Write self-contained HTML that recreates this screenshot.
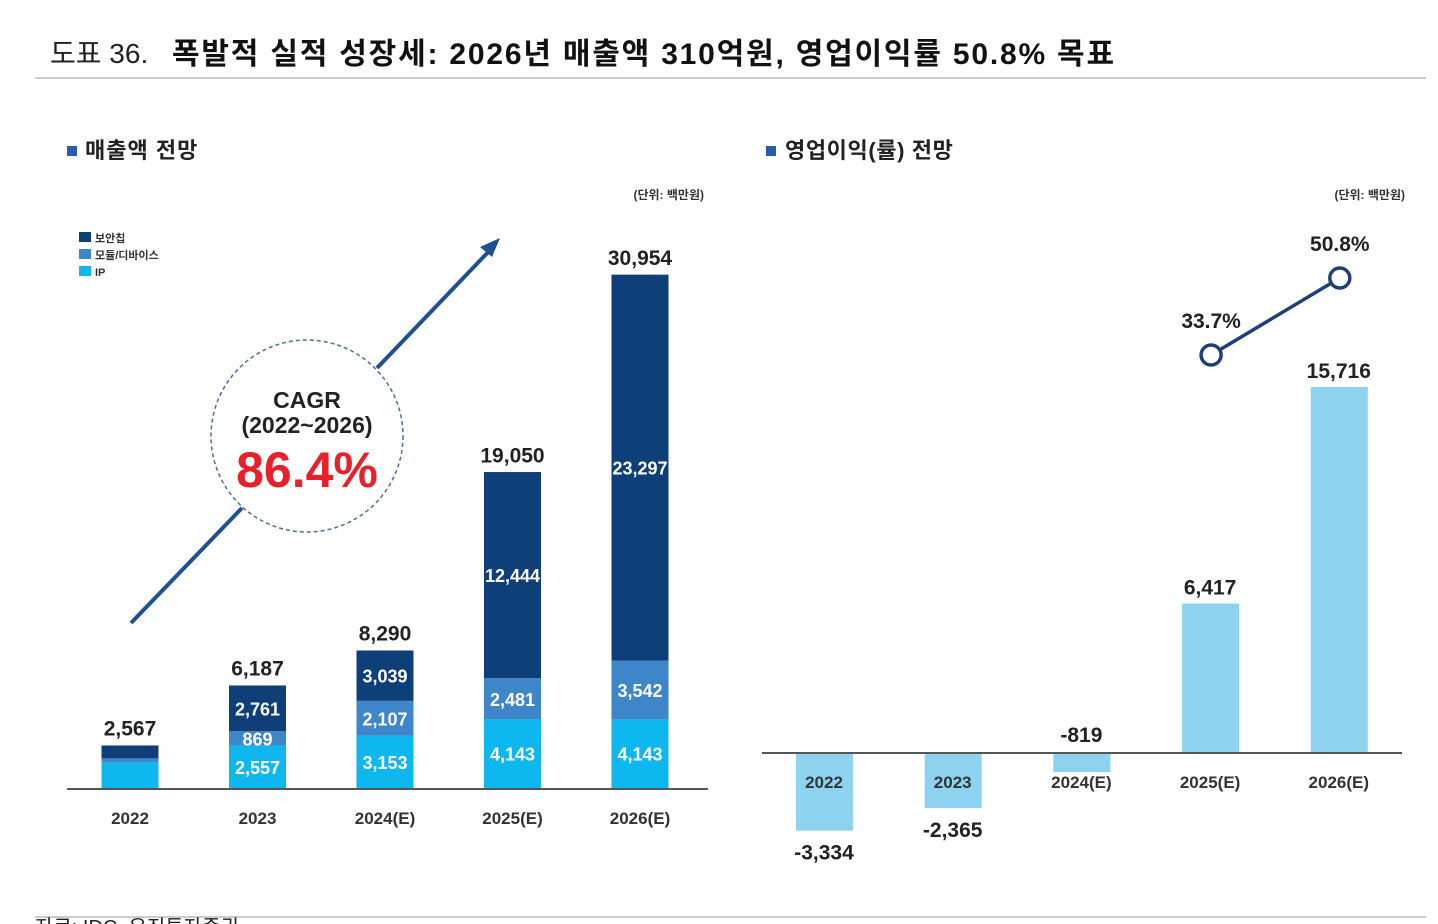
<!DOCTYPE html>
<html><head><meta charset="utf-8">
<style>
body{margin:0;background:#fff;width:1438px;height:924px;overflow:hidden;font-family:"Liberation Sans","Noto Sans CJK KR",sans-serif;}
svg{position:absolute;left:0;top:0}
</style></head>
<body>
<svg width="1438" height="924" id="fig">
<text x="50" y="63" font-size="28" fill="#222" font-family="Liberation Sans, Noto Sans CJK KR, sans-serif">도표 36.</text>
<text x="172" y="64" font-size="30" font-weight="bold" fill="#111" letter-spacing="1.8" font-family="Liberation Sans, Noto Sans CJK KR, sans-serif">폭발적 실적 성장세: 2026년 매출액 310억원, 영업이익률 50.8% 목표</text>
<line x1="35" y1="78" x2="1426" y2="78" stroke="#bbb" stroke-width="1.5"/>
<line x1="35" y1="917" x2="1426" y2="917" stroke="#bbb" stroke-width="1.5"/>
<text x="35" y="934" font-size="20" fill="#222">자료: IDC, 유진투자증권</text>

<rect x="67" y="146" width="10" height="10" fill="#2a5db0"/>
<text x="85" y="158" font-size="22" font-weight="bold" fill="#222" letter-spacing="1">매출액 전망</text>
<text x="704" y="199" font-size="12" font-weight="bold" fill="#333" text-anchor="end">(단위: 백만원)</text>
<rect x="766" y="146" width="10" height="10" fill="#2a5db0"/>
<text x="785" y="158" font-size="22" font-weight="bold" fill="#222" letter-spacing="0.6">영업이익(률) 전망</text>
<text x="1405" y="199" font-size="12" font-weight="bold" fill="#333" text-anchor="end">(단위: 백만원)</text>

<g>
<rect x="79" y="232" width="12" height="10" fill="#0f3f78"/>
<text x="95" y="242" font-size="11" font-weight="bold" fill="#333">보안칩</text>
<rect x="79" y="249" width="12" height="10" fill="#3d86c9"/>
<text x="95" y="259" font-size="11" font-weight="bold" fill="#333">모듈/디바이스</text>
<rect x="79" y="266" width="12" height="10" fill="#0fb7ef"/>
<text x="95" y="276" font-size="11" font-weight="bold" fill="#333">IP</text>
</g>

<line x1="131" y1="623" x2="242" y2="508" stroke="#1f4f95" stroke-width="4"/>
<line x1="377" y1="368" x2="493" y2="247" stroke="#1f4f95" stroke-width="4"/>
<polygon points="500,238 480,247 492,257" fill="#1f4f95"/>
<circle cx="307" cy="436" r="96" fill="#fff" stroke="#4a6f9c" stroke-width="1.5" stroke-dasharray="4,3"/>
<text x="307" y="408" font-size="23" font-weight="bold" fill="#222" text-anchor="middle">CAGR</text>
<text x="307" y="433" font-size="23" font-weight="bold" fill="#222" text-anchor="middle">(2022~2026)</text>
<text x="307" y="487" font-size="50" font-weight="bold" fill="#e8202a" text-anchor="middle">86.4%</text>

<g id="left"></g>
<g id="right"></g>
</svg>
<script>
const years=["2022","2023","2024(E)","2025(E)","2026(E)"];
const ipVals=[1547,2557,3153,4143,4143];
const moduleVals=[240,869,2107,2481,3542];
const securityVals=[780,2761,3039,12444,23297];
const totalVals=[2567,6187,8290,19050,30954];
const opProfit=[-3334,-2365,-819,6417,15716];
const opMargin=[null,null,null,33.7,50.8];

const NS="http://www.w3.org/2000/svg";
function el(t,a,p,txt){const e=document.createElementNS(NS,t);for(const k in a)e.setAttribute(k,a[k]);if(txt!==undefined)e.textContent=txt;p.appendChild(e);return e;}
const L=document.getElementById('left'),R=document.getElementById('right');
const lx=i=>130+i*127.5, ly=v=>788-v*0.01657, bw=57;
let ax=el('line',{x1:67,y1:789,x2:708,y2:789,stroke:'#555','stroke-width':2},L);


const series=[[ipVals,'#0fb7ef','ip'],[moduleVals,'#3d86c9','module'],[securityVals,'#0f3f78','security']];
years.forEach((y,i)=>{
  let base=0;
  series.forEach(([arr,col,nm])=>{
    const v=arr[i];const r=el('rect',{x:lx(i)-bw/2,y:ly(base+v),width:bw,height:ly(base)-ly(base+v),fill:col},L);
    
    
    if(i>0){const t=el('text',{x:lx(i),y:(ly(base)+ly(base+v))/2+7,'font-size':18,'font-weight':'bold',fill:'#fff','text-anchor':'middle'},L,v.toLocaleString('en-US'));
      
      }
    base+=v;
  });
  const tt=el('text',{x:lx(i),y:ly(totalVals[i])-10,'font-size':21,'font-weight':'bold',fill:'#222','text-anchor':'middle'},L,totalVals[i].toLocaleString('en-US'));
  
  
  const c=el('text',{x:lx(i),y:824,'font-size':17,'font-weight':'bold',fill:'#333','text-anchor':'middle'},L,y);
  
  
});
const rx=i=>824+i*128.7, ry=v=>753-v*0.02329;
years.forEach((y,i)=>{
  const v=opProfit[i];
  const h=Math.abs(ry(v)-ry(0));
  const r=el('rect',{x:rx(i)-28,y:Math.min(ry(v),ry(0)),width:57,height:h,fill:'#8dd3f0'},R);
  
  
  let ty;
  if(v>=0) ty=ry(v)-9; else if(h<40) ty=ry(0)-11; else ty=ry(v)+29;
  const t=el('text',{x:rx(i),y:ty,'font-size':21,'font-weight':'bold',fill:'#222','text-anchor':'middle'},R,v.toLocaleString('en-US'));
  
  
  const c=el('text',{x:rx(i),y:788,'font-size':17,'font-weight':'bold',fill:'#333','text-anchor':'middle'},R,y);
  
  
});
const ax2=el('line',{x1:762,y1:753,x2:1402,y2:753,stroke:'#555','stroke-width':2},R);


const my=m=>355-(m-33.7)*4.503;
const pts=[];opMargin.forEach((m,i)=>{if(m!==null)pts.push([rx(i)+1,my(m),m,years[i]]);});
const ln=el('polyline',{points:pts.map(p=>p[0]+','+p[1]).join(' '),fill:'none',stroke:'#1f3f7a','stroke-width':3.5},R);


pts.forEach(p=>{
  const c=el('circle',{cx:p[0],cy:p[1],r:10,fill:'#fff',stroke:'#1f3f7a','stroke-width':3.5},R);
  
  
  const t=el('text',{x:p[0],y:p[1]-27,'font-size':21,'font-weight':'bold',fill:'#222','text-anchor':'middle'},R,p[2].toFixed(1)+'%');
  
  
});
</script>
</body></html>
